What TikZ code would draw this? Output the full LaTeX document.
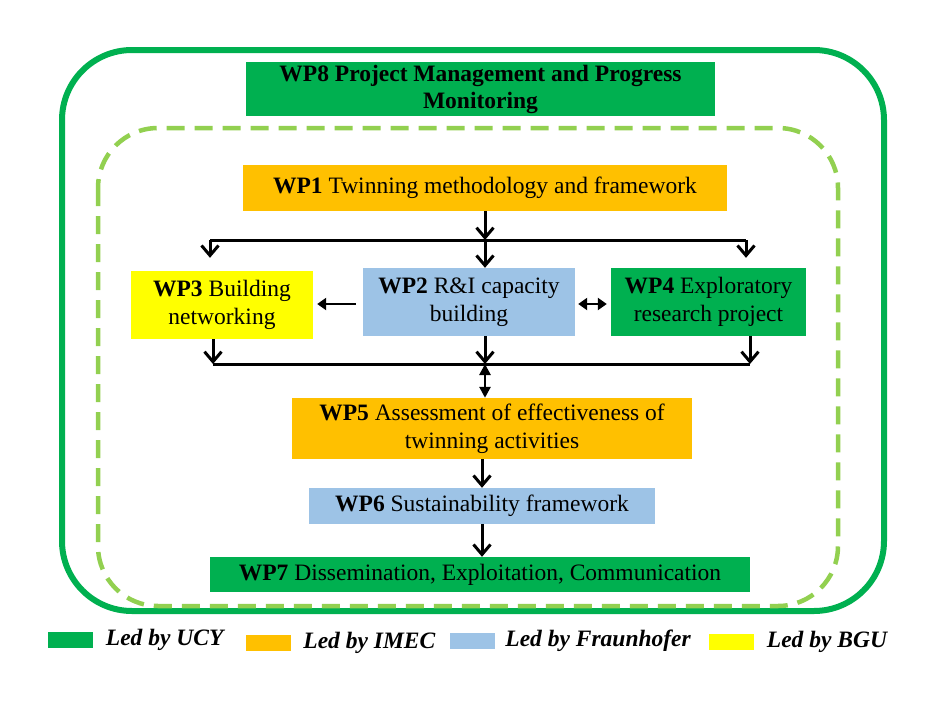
\documentclass[tikz,border=0pt]{standalone}
\usepackage{fontspec}
\setmainfont{Liberation Serif}
\usetikzlibrary{arrows.meta, calc, positioning}

\definecolor{ucygreen}{HTML}{00B050}
\definecolor{imecorange}{HTML}{FFC000}
\definecolor{fhblue}{HTML}{9DC3E6}
\definecolor{bguyellow}{HTML}{FFFF00}
\definecolor{framegreen}{HTML}{92D050}

\tikzset{
    wpbox/.style={inner sep=0pt, align=center},
    flowline/.style={line width=3pt},
    solidtip/.style={line width=2.6pt, >={Triangle[length=9pt, width=12pt]}},
    swatch/.style={minimum width=45pt, minimum height=16pt, inner sep=0pt},
    keytext/.style={font=\fontsize{23.5}{25}\selectfont\bfseries\itshape, inner sep=0pt, anchor=west}
}

\begin{document}
\begin{tikzpicture}[x=1pt, y=-1pt, >={Straight Barb[length=10pt, width=17pt]}, font=\fontsize{23.5}{28}\selectfont]

        \useasboundingbox (0,0) rectangle (946,707);

        % frames
        \draw[ucygreen, line width=6pt, rounded corners=70pt] (62,50) rectangle (884,611);
        \draw[framegreen, line width=4.5pt, dash pattern=on 18pt off 10pt, rounded corners=60pt] (98,128) rectangle (838,606);

        \node[wpbox, fill=ucygreen, minimum width=469, minimum height=54, font=\fontsize{23.5}{27}\selectfont\bfseries] (wp8) at (480.5,89) {WP8 Project Management and Progress\\Monitoring};

        \node[wpbox, fill=imecorange, minimum width=484, minimum height=46] (wp1) at (485,188) {\textbf{WP1} Twinning methodology and framework};

        \node[wpbox, fill=bguyellow, minimum width=182, minimum height=68] (wp3) at (222,305) {\textbf{WP3} Building\\networking};
        \node[wpbox, fill=fhblue, minimum width=212, minimum height=68] (wp2) at (469,302) {\textbf{WP2} R\&I capacity\\building};
        \node[wpbox, fill=ucygreen, minimum width=195, minimum height=68] (wp4) at (708.5,302) {\textbf{WP4} Exploratory\\research project};

        \node[wpbox, fill=imecorange, minimum width=400, minimum height=61] (wp5) at (492,428.5) {\textbf{WP5} Assessment of effectiveness of\\twinning activities};
        \node[wpbox, fill=fhblue, minimum width=346, minimum height=36] (wp6) at (482,506) {\textbf{WP6} Sustainability framework};
        \node[wpbox, fill=ucygreen, minimum width=540, minimum height=35] (wp7) at (480,574.5) {\textbf{WP7} Dissemination, Exploitation, Communication};

        % split and join lines
        \coordinate (split) at (485,240);
        \coordinate (splitL) at (210,240);
        \coordinate (splitR) at (746,240);
        \coordinate (join) at (485,364);
        \coordinate (joinL) at (213,364);
        \coordinate (joinR) at (750,364);

        \draw[flowline, ->] (wp1) -- (split);
        \draw[flowline] (splitL) -- (splitR);
        \draw[flowline, ->] (splitL) -- ($(splitL |- wp3.north)+(0,-13)$);
        \draw[flowline, ->] (split) -- (split |- wp2.north);
        \draw[flowline, ->] (splitR) -- ($(splitR |- wp4.north)+(0,-10)$);

        \draw[solidtip, ->] ([xshift=-7pt, yshift=-2pt]wp2.west) -- ([xshift=4pt, yshift=-2pt]wp2.west -| wp3.east);
        \draw[solidtip, <->] ([xshift=3pt, yshift=-2pt]wp2.east) -- ([xshift=-4pt, yshift=-2pt]wp4.west);

        \draw[flowline, ->] (wp3.south -| joinL) -- (joinL);
        \draw[flowline, ->] (wp2.south -| join) -- (join);
        \draw[flowline, ->] (wp4.south -| joinR) -- (joinR);
        \draw[flowline] (joinL) -- (joinR);
        \draw[solidtip, <->, >={Triangle[length=11pt, width=11pt]}] (join) -- (join |- wp5.north);

        \draw[flowline, ->] (wp5.south -| wp6) -- (wp6.north);
        \draw[flowline, ->] (wp6) -- (wp6 |- wp7.north);

        % legend
        \node[swatch, fill=ucygreen] (keyucy) at (70,640) {};
        \node[keytext, right=13pt of keyucy] (txtucy) {Led by UCY};
        \node[swatch, fill=imecorange] (keyimec) at (268.5,643) {};
        \node[keytext, right=12pt of keyimec] (txtimec) {Led by IMEC};
        \node[swatch, fill=fhblue] (keyfh) at (472.5,641) {};
        \node[keytext, right=10pt of keyfh] (txtfh) {Led by Fraunhofer};
        \node[swatch, fill=bguyellow] (keybgu) at (731,641.5) {};
        \node[keytext, right=13pt of keybgu] (txtbgu) {Led by BGU};

    \end{tikzpicture}
\end{document}
